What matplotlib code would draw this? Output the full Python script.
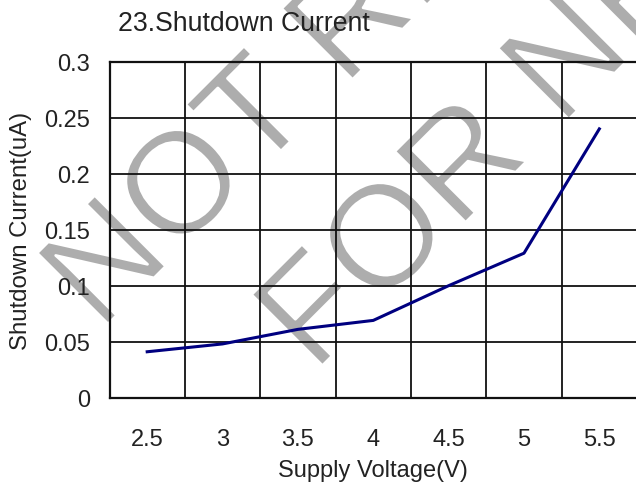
"""23. Shutdown Current vs supply voltage (datasheet-style chart)."""

import matplotlib

matplotlib.use("Agg")
import matplotlib.patheffects as pe
import matplotlib.pyplot as plt

plt.rcParams["font.family"] = "Liberation Sans"

INK = "#222222"
NAVY = "#000080"
WATERMARK = "#adadad"

voltage_labels = ["2.5", "3", "3.5", "4", "4.5", "5", "5.5"]
shutdown_current = [0.041, 0.048, 0.061, 0.069, 0.100, 0.129, 0.240]
y_ticks = [0, 0.05, 0.1, 0.15, 0.2, 0.25, 0.3]
y_tick_labels = ["0", "0.05", "0.1", "0.15", "0.2", "0.25", "0.3"]

fig = plt.figure(figsize=(6.36, 4.89), dpi=100)
ax = fig.add_axes([0.1722, 0.1847, 0.8294, 0.6871])
ax.set_facecolor("none")

# watermark behind everything; a white outline thins the glyph strokes a bit
thin = [pe.Normal(), pe.Stroke(linewidth=2.0, foreground="white")]
fig.text(0.1566, 0.3182, "NOT RECOMMENDED", fontsize=105, color=WATERMARK,
         rotation=45, rotation_mode="anchor", ha="left", va="baseline", zorder=-1,
         path_effects=thin)
fig.text(0.4937, 0.2331, "FOR NEW DESIGN", fontsize=105, color=WATERMARK,
         rotation=45, rotation_mode="anchor", ha="left", va="baseline", zorder=-1,
         path_effects=thin)

x = list(range(len(voltage_labels)))
ax.plot(x, shutdown_current, color=NAVY, lw=2.2, zorder=3)

ax.set_xlim(-0.5, len(voltage_labels) - 0.5)
ax.set_ylim(0, 0.3)
ax.set_xticks(x)
ax.set_xticklabels(voltage_labels)
ax.set_yticks(y_ticks)
ax.set_yticklabels(y_tick_labels)

# excel-style grid: horizontal at ticks, vertical between categories
for yv in y_ticks:
    ax.axhline(yv, color="#111111", lw=1.3, zorder=1)
for k in range(len(voltage_labels) + 1):
    ax.axvline(k - 0.5, color="#111111", lw=1.3, zorder=1)

for s in ax.spines.values():
    s.set_color("#111111")
    s.set_linewidth(1.6)

ax.tick_params(axis="both", length=0, labelsize=17, colors=INK)
ax.tick_params(axis="x", pad=22)
ax.tick_params(axis="y", pad=14)

ax.set_xlabel("Supply Voltage(V)", fontsize=17, color=INK, labelpad=6)
ax.set_ylabel("Shutdown Current(uA)", fontsize=17.3, color=INK, labelpad=9)

fig.text(118 / 636, 1 - 31 / 489, "23.Shutdown Current", fontsize=19.2, color=INK,
         ha="left", va="baseline")

fig.savefig("out.png", dpi=100)
